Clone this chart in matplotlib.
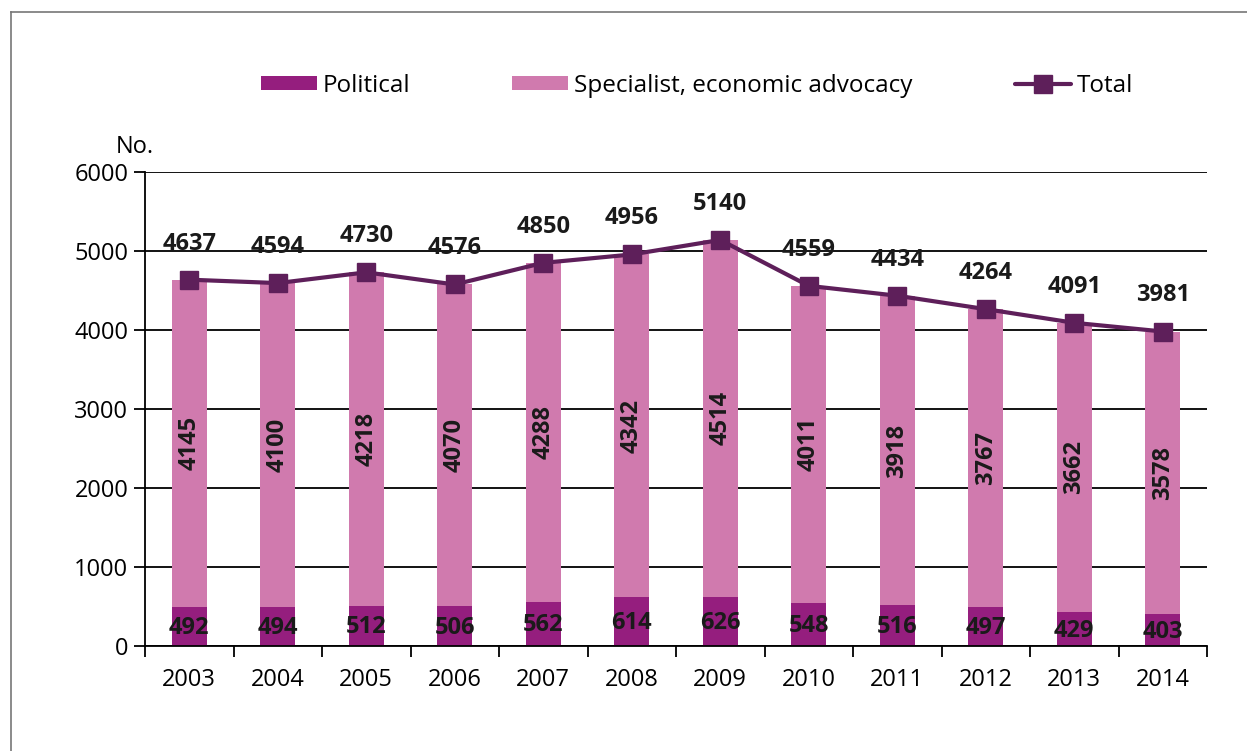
import matplotlib
matplotlib.use("Agg")
import matplotlib.pyplot as plt
import numpy as np

plt.rcParams['font.family'] = ['Open Sans', 'DejaVu Sans']

years = ['2003', '2004', '2005', '2006', '2007', '2008', '2009', '2010', '2011', '2012', '2013', '2014']
political = [492, 494, 512, 506, 562, 614, 626, 548, 516, 497, 429, 403]
specialist = [4145, 4100, 4218, 4070, 4288, 4342, 4514, 4011, 3918, 3767, 3662, 3578]
total = [4637, 4594, 4730, 4576, 4850, 4956, 5140, 4559, 4434, 4264, 4091, 3981]

c_pol = '#951e7e'
c_spec = '#d07aae'
c_tot = '#5e1f5a'

fig = plt.figure(figsize=(12.47, 7.51), dpi=100)
ax = fig.add_axes([145/1247, 1-646/751, 1062/1247, 474/751])

x = np.arange(len(years))
b1 = ax.bar(x, political, width=0.4, color=c_pol, label='Political', zorder=2)
b2 = ax.bar(x, specialist, width=0.4, bottom=political, color=c_spec,
            label='Specialist, economic advocacy', zorder=2)
ln, = ax.plot(x, total, color=c_tot, lw=3, marker='s', ms=13, label='Total', zorder=3,
              solid_capstyle='round')

for i in range(len(years)):
    ax.text(x[i], political[i] / 2 - 20, str(political[i]), ha='center', va='center',
            fontsize=17, fontweight='bold', color='#1a1a1a', zorder=4)
    ax.text(x[i], political[i] + specialist[i] / 2, str(specialist[i]), ha='center',
            va='center', rotation=90, fontsize=17, fontweight='bold', color='#1a1a1a', zorder=4)
    ax.annotate(str(total[i]), (x[i], total[i]), xytext=(0, 26), textcoords='offset points',
                ha='center', va='center', fontsize=17, fontweight='bold', color='#1a1a1a')

ax.set_xlim(-0.5, len(years) - 0.5)
ax.set_ylim(0, 6000)
ax.set_yticks(range(0, 6001, 1000))
ax.yaxis.grid(True, color='black', lw=1.3, zorder=1)
ax.set_axisbelow(True)
ax.set_xticks(x)
ax.set_xticklabels(years)
ax.set_xticks(np.arange(-0.5, len(years), 1), minor=True)
ax.tick_params(axis='x', which='major', length=0, labelsize=17, pad=16)
ax.tick_params(axis='x', which='minor', length=8, width=1.3, direction='out')
ax.tick_params(axis='y', length=8, width=1.3, labelsize=17, pad=4)
for s in ['top', 'right']:
    ax.spines[s].set_visible(False)
for s in ['left', 'bottom']:
    ax.spines[s].set_linewidth(1.3)

fig.text(135/1247, 1-147/751, 'No.', ha='center', va='center', fontsize=17)

fig.legend(handles=[b1, b2, ln], loc='center', bbox_to_anchor=(697/1247, 1-86/751),
           ncol=3, frameon=False, fontsize=17.5, handlelength=2.3, handleheight=0.5,
           handletextpad=0.25, columnspacing=4.2)

# frame lines around the chart
fig.add_artist(plt.Line2D([11/1247, 1], [1-12/751, 1-12/751], color='#777777', lw=1.2))
fig.add_artist(plt.Line2D([11/1247, 11/1247], [0, 1-12/751], color='#777777', lw=1.2))

fig.savefig('out.png', dpi=100)
